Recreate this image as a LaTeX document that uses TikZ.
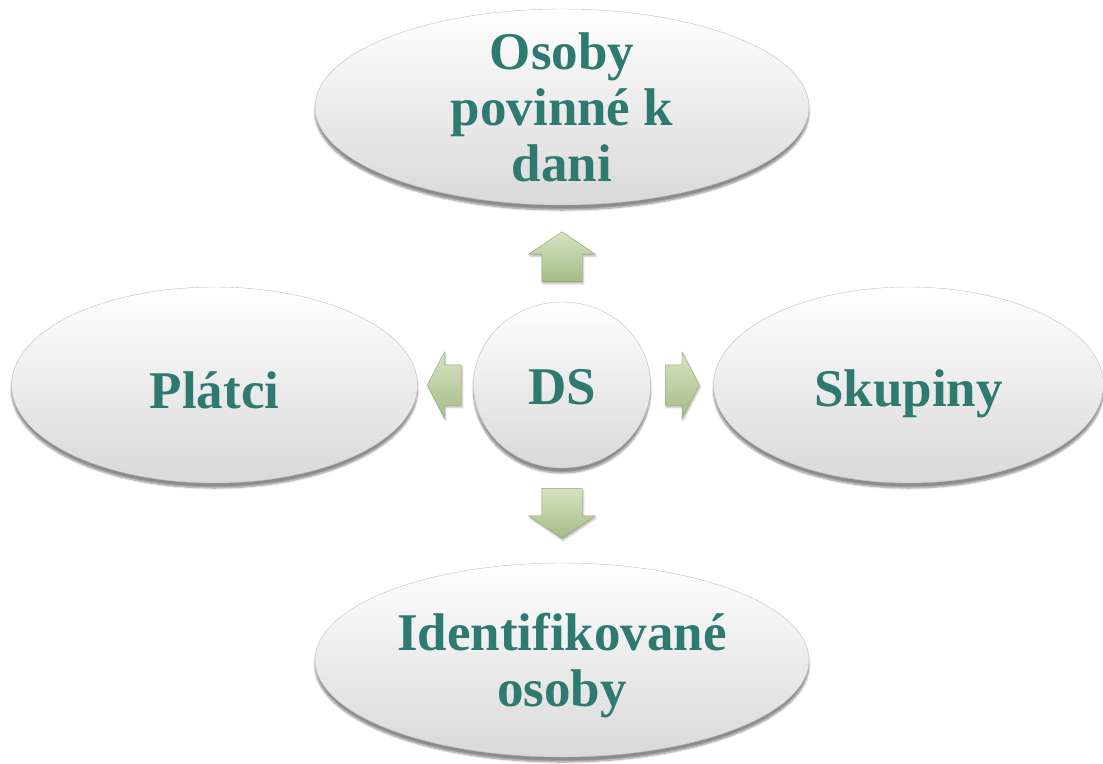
\documentclass[tikz,border=0pt]{standalone}
\usepackage{fontspec}
\setmainfont{Liberation Serif}
\usepackage{tikz}
\usetikzlibrary{positioning, calc}
\usetikzlibrary{shadows.blur}
\usetikzlibrary{shapes, arrows.meta}
\definecolor{dsteal}{HTML}{2E7970}
\definecolor{leafedge}{HTML}{8CA66B}
\definecolor{leaftop}{HTML}{D6E3C2}
\definecolor{leafbot}{HTML}{A5BC86}
\tikzstyle{bubble}=[ellipse, draw=gray!50, thin, top color=white, bottom color=gray!30, inner sep=0pt, outer sep=0pt, blur shadow={shadow xshift=0pt, shadow yshift=-5pt, shadow blur steps=8, shadow opacity=45}]
\tikzstyle{topic}=[font=\fontsize{53}{56}\selectfont\bfseries, text=dsteal, align=center]
\tikzstyle{pointer}=[single arrow, draw=leafedge, thin, top color=leaftop, bottom color=leafbot, single arrow head extend=13pt, blur shadow={shadow xshift=1pt, shadow yshift=-2pt, shadow blur steps=4, shadow opacity=30}]
\tikzstyle{pointer v}=[pointer, inner xsep=20pt, inner ysep=0pt, minimum height=50pt, single arrow tip angle=112]
\tikzstyle{pointer h}=[pointer, inner xsep=0pt, inner ysep=20pt, minimum height=34pt, single arrow tip angle=125]

\begin{document}
\begin{tikzpicture}[x=1pt, y=-1pt]
        \useasboundingbox (0,0) rectangle (1103,763);
        % centre
        \node[bubble, minimum width=177pt, minimum height=166pt, label={[topic, yshift=-2pt]center:DS}] (ds) at (562,385) {};

        % the four around it
        \node[bubble, minimum width=494pt, minimum height=196pt, above=97pt of ds, label={[topic]center:Osoby\\povinné k\\dani}] (osoby) {};
        \node[bubble, minimum width=494pt, minimum height=194pt, below=95pt of ds, label={[topic, yshift=-6pt]center:Identifikované\\osoby}] (identif) {};
        \node[bubble, minimum width=406pt, minimum height=196pt, left=56pt of ds, label={[topic, yshift=-5pt]center:Plátci}] (platci) {};
        \node[bubble, minimum width=390pt, minimum height=196pt, right=63pt of ds, label={[topic, yshift=-9pt]center:Skupiny}] (skupiny) {};

        % arrows
        \node[pointer v, shape border rotate=90, yshift=-10pt] (to osoby) at ($(ds.north)!0.5!(osoby.south)$) {};
        \node[pointer v, shape border rotate=270, yshift=9pt] (to identif) at ($(ds.south)!0.5!(identif.north)$) {};
        \node[pointer h, shape border rotate=180, xshift=4pt] (to platci) at ($(ds.west)!0.5!(platci.east)$) {};
        \node[pointer h, xshift=-5pt] (to skupiny) at ($(ds.east)!0.5!(skupiny.west)$) {};
    \end{tikzpicture}
\end{document}
